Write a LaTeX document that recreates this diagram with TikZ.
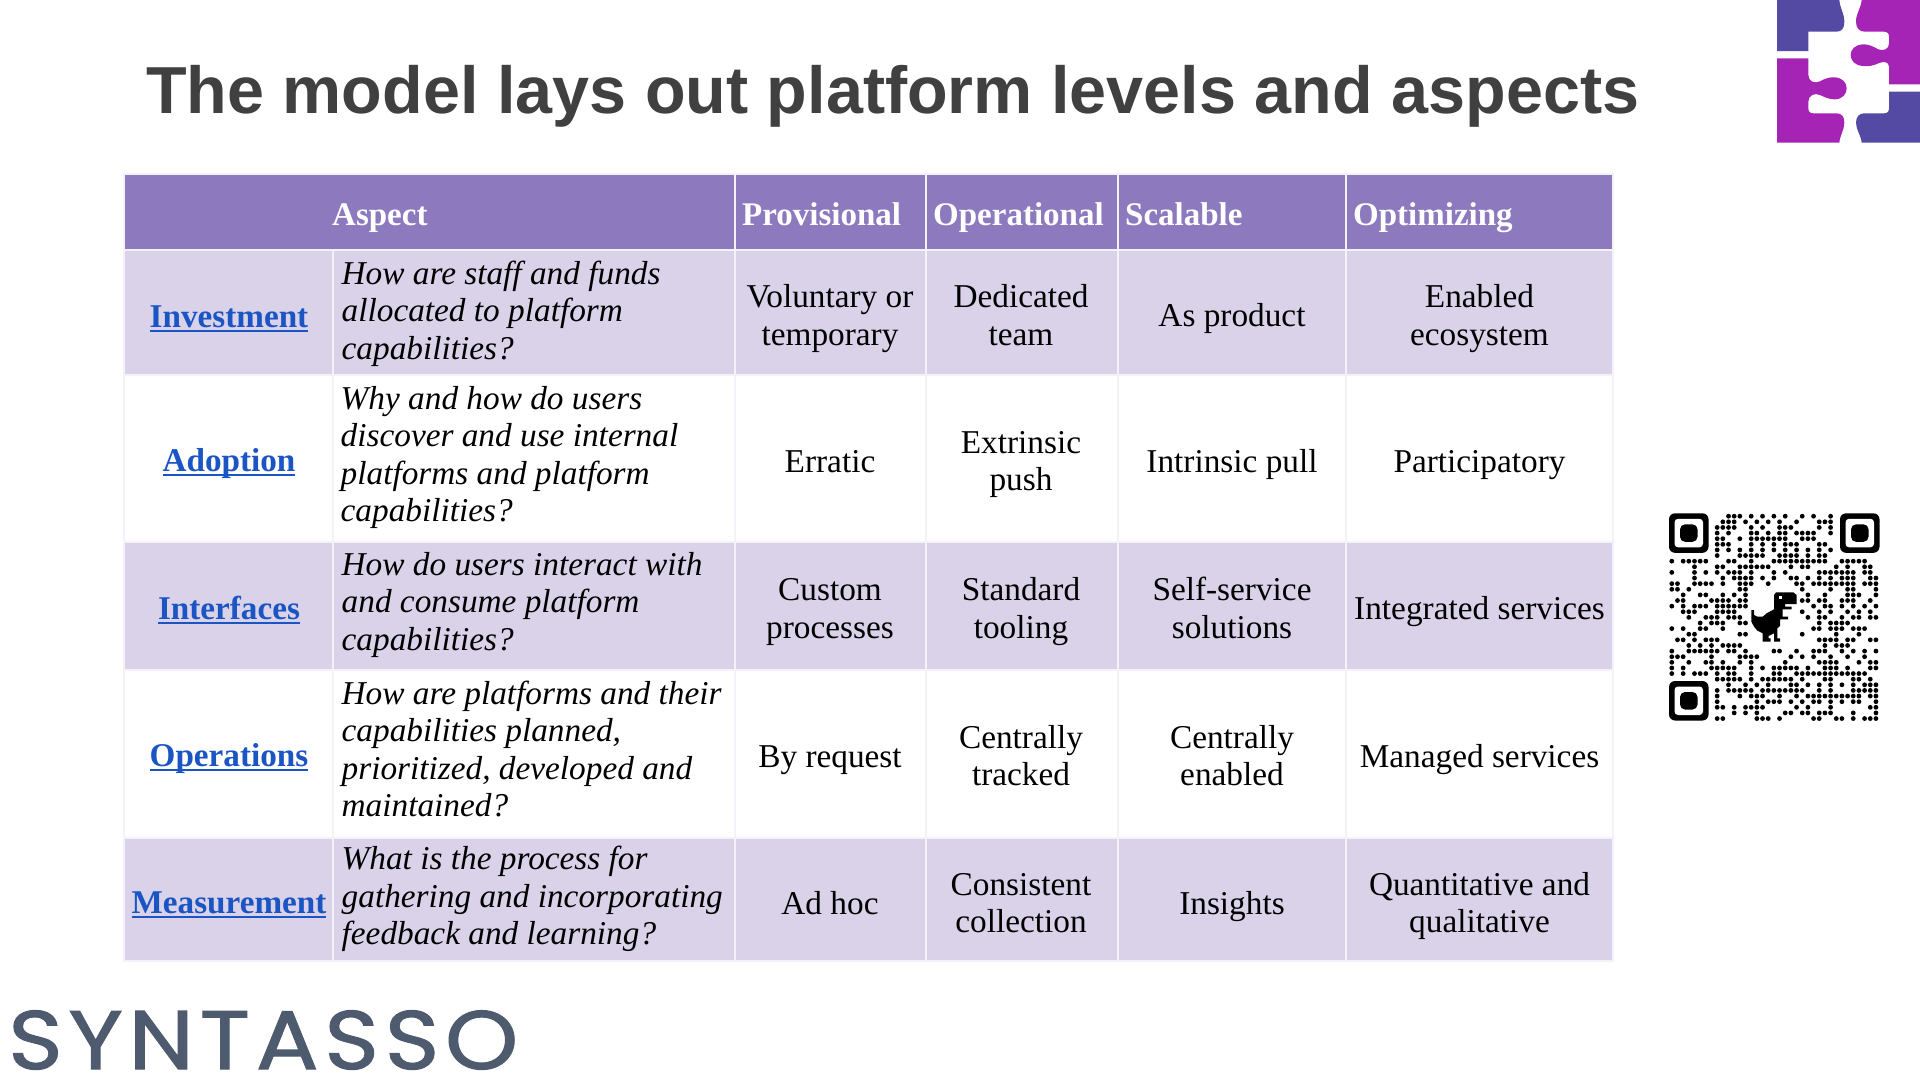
\documentclass[tikz,border=0pt]{standalone}
\usepackage{fontspec}
\setmainfont{Liberation Serif}
\newfontfamily\titlefont{Liberation Sans}
\newfontfamily\brandfont[LetterSpace=7,FakeBold=1.4,FakeStretch=1.12]{Poppins}
\definecolor{headpurple}{HTML}{8C79BE}
\definecolor{rowlilac}{HTML}{D9D2E9}
\definecolor{cellline}{HTML}{F4F2F8}
\definecolor{linkblue}{HTML}{1B55C4}
\definecolor{titlegrey}{HTML}{404040}
\definecolor{brandslate}{HTML}{4E5A6E}
\definecolor{logopurple}{HTML}{A524B5}
\definecolor{logoblue}{HTML}{5449A3}
\newcommand\ulink[1]{\setbox0\hbox{#1}\rlap{\textcolor{linkblue}{\rule[-4.5pt]{\wd0}{2pt}}}\box0}
\tikzset{
  headcell/.style={fill=headpurple,draw=cellline,line width=2.5pt},
  oddcell/.style={fill=rowlilac,draw=cellline,line width=2.5pt},
  evencell/.style={fill=white,draw=cellline,line width=2.5pt},
  body/.style={inner sep=0pt,align=center,text=black,font=\fontsize{33.3}{37.5}\selectfont},
  question/.style={inner sep=0pt,align=left,anchor=west,text=black,font=\fontsize{33.3}{37.5}\selectfont\itshape},
  headtext/.style={inner sep=0pt,anchor=base west,text=white,font=\fontsize{33}{38}\selectfont\bfseries},
  aspectlink/.style={inner sep=0pt,text=linkblue,font=\fontsize{33.2}{38}\selectfont\bfseries},
  qrdot/.style={fill=black},
}
\begin{document}
\begin{tikzpicture}[x=1pt,y=-1pt]
\useasboundingbox (0,0) rectangle (1920,1080);
\fill[white] (0,0) rectangle (1920,1080);
% title
\node[inner sep=0pt,anchor=base west,text=titlegrey,font=\fontsize{66.5}{80}\selectfont\titlefont\bfseries] (title) at (146,113) {The model lays out platform levels and aspects};
% table backgrounds
\path[headcell] (124,174) rectangle (735,250);
\path[headcell] (735,174) rectangle (926,250);
\path[headcell] (926,174) rectangle (1118,250);
\path[headcell] (1118,174) rectangle (1346,250);
\path[headcell] (1346,174) rectangle (1613,250);
\foreach \ya/\yb/\st in {250/375/oddcell,375/542/evencell,542/670/oddcell,670/838/evencell,838/961/oddcell}{
  \foreach \xa/\xb in {124/333,333/735,735/926,926/1118,1118/1346,1346/1613}{
    \path[\st] (\xa,\ya) rectangle (\xb,\yb);
  }
}
% header
\node[headtext] (hA) at (332,225) {Aspect};
\node[headtext] (hB) at (742,225) {Provisional};
\node[headtext] (hC) at (933,225) {Operational};
\node[headtext] (hD) at (1125,225) {Scalable};
\node[headtext] (hE) at (1353,225) {Optimizing};
% row 1
\node[aspectlink] (a1) at (229,319) {\ulink{Investment}};
\node[question] (q1) at (341.5,314) {\strut How are staff and funds\\allocated to platform\\capabilities?\strut};
\node[body] (p1) at (830,319) {\strut Voluntary or\\temporary\strut};
\node[body] (o1) at (1021,319) {\strut Dedicated\\team\strut};
\node[body] (s1) at (1232,319) {\strut As product\strut};
\node[body] (z1) at (1479.5,319) {\strut Enabled\\ecosystem\strut};
% row 2
\node[aspectlink] (a2) at (229,464) {\ulink{Adoption}};
\node[question] (q2) at (340.5,458) {\strut Why and how do users\\discover and use internal\\platforms and platform\\capabilities?\strut};
\node[body] (p2) at (830,464.5) {\strut Erratic\strut};
\node[body] (o2) at (1021,464.5) {\strut Extrinsic\\push\strut};
\node[body] (s2) at (1232,464.5) {\strut Intrinsic pull\strut};
\node[body] (z2) at (1479.5,464.5) {\strut Participatory\strut};
% row 3
\node[aspectlink] (a3) at (229,610.5) {\ulink{Interfaces}};
\node[question] (q3) at (341.5,605) {\strut How do users interact with\\and consume platform\\capabilities?\strut};
\node[body] (p3) at (830,612) {\strut Custom\\processes\strut};
\node[body] (o3) at (1021,612) {\strut Standard\\tooling\strut};
\node[body] (s3) at (1232,612) {\strut Self-service\\solutions\strut};
\node[body] (z3) at (1479.5,612) {\strut Integrated services\strut};
% row 4
\node[aspectlink] (a4) at (229,759) {\ulink{Operations}};
\node[question] (q4) at (341.5,753) {\strut How are platforms and their\\capabilities planned,\\prioritized, developed and\\maintained?\strut};
\node[body] (p4) at (830,759.5) {\strut By request\strut};
\node[body] (o4) at (1021,759.5) {\strut Centrally\\tracked\strut};
\node[body] (s4) at (1232,759.5) {\strut Centrally\\enabled\strut};
\node[body] (z4) at (1479.5,759.5) {\strut Managed services\strut};
% row 5
\node[aspectlink] (a5) at (229,905) {\ulink{Measurement}};
\node[question] (q5) at (341.5,899.5) {\strut What is the process for\\gathering and incorporating\\feedback and learning?\strut};
\node[body] (p5) at (830,906.5) {\strut Ad hoc\strut};
\node[body] (o5) at (1021,906.5) {\strut Consistent\\collection\strut};
\node[body] (s5) at (1232,906.5) {\strut Insights\strut};
\node[body] (z5) at (1479.5,906.5) {\strut Quantitative and\\qualitative\strut};
% brand
\node[inner sep=0pt,anchor=base west,text=brandslate,font=\fontsize{83}{90}\selectfont\brandfont] (brand) at (8,1069) {SYNTASSO};
% logo
\begin{scope}[shift={(1760,0)},x=0.3333pt,y=-0.3333pt]
\fill[logoblue] (51,0) -- (238,0) .. controls (240,25) and (253,40) .. (253,65) .. controls (253,85) and (245,95) .. (230,95) -- (145,95) -- (145,153) -- (51,153) -- cycle;
\fill[logopurple] (305,0) -- (480,0) -- (480,253) -- (387,253) -- (387,200) .. controls (387,185) and (370,183) .. (355,190) .. controls (340,197) and (325,200) .. (310,198) .. controls (285,197) and (272,182) .. (272,165) .. controls (272,148) and (285,134) .. (310,133) .. controls (325,132) and (340,140) .. (355,148) .. controls (370,154) and (387,148) .. (387,130) -- (387,110) .. controls (387,100) and (382,95) .. (372,95) -- (315,95) .. controls (298,95) and (288,85) .. (288,65) .. controls (288,40) and (303,25) .. (305,0) -- cycle;
\fill[logopurple] (51,175) -- (145,175) -- (145,225) .. controls (145,245) and (165,252) .. (180,244) .. controls (195,236) and (210,230) .. (225,232) .. controls (248,234) and (260,248) .. (260,265) .. controls (260,282) and (248,297) .. (225,298) .. controls (210,299) and (195,292) .. (180,285) .. controls (165,278) and (145,285) .. (145,305) -- (145,325) .. controls (145,335) and (150,340) .. (160,340) -- (230,340) .. controls (245,340) and (253,350) .. (253,368) .. controls (253,390) and (240,405) .. (238,428) -- (51,428) -- cycle;
\fill[logoblue] (305,428) .. controls (303,405) and (288,390) .. (288,368) .. controls (288,350) and (298,340) .. (312,340) -- (372,340) .. controls (382,340) and (387,335) .. (387,325) -- (387,275) -- (480,275) -- (480,428) -- cycle;
\end{scope}
% QR code
\begin{scope}[shift={(1671.8,516.2)},x=5.67pt,y=-5.62pt]
\foreach \r/\cs in {
0/{10,11,12,14,16,18,20,23,25,28},
1/{9,10,11,13,15,17,19,22,26,27,28},
2/{8,9,10,11,14,16,19,20,21,26,28},
3/{8,10,14,15,17,19,20,22,23,24,25,28},
4/{8,9,12,14,15,16,17,18,19,20,23,24,25},
5/{8,9,10,14,16,18,20,21,22,26,27},
6/{8,10,12,14,16,18,20,22,24,26,28},
7/{8,12,13,14,15,16,19,20,21,22,24,26,27},
8/{0,2,3,4,5,6,10,11,14,18,19,20,21,22,23,24,25,26,27,30,31,32,33,34},
9/{4,8,9,12,13,14,15,16,17,21,23,24,29,31,34,35},
10/{0,4,6,8,10,11,12,14,18,20,26,27,28,29,30,31,32,34,35},
11/{4,9,11,12,13,14,16,18,21,22,24,26,28,30,31,32,35,36},
12/{0,1,4,5,6,7,9,12,13,14,17,22,23,25,26,27,28,29,30,31,32,34,35,36},
13/{0,1,3,12,13,23,28,31,32,36},
14/{2,5,6,9,11,13,24,27,31,32,33,36},
15/{1,2,7,8,9,10,12,13,23,24,26,27,30,31,32,35},
16/{0,2,4,5,6,8,9,10,11,12,13,25,27,28,30,32,34,36},
17/{2,3,4,8,9,10,11,23,26,28,31,33,35},
18/{3,6,7,8,10,11,12,24,26,27,30,32,33,35,36},
19/{5,7,8,9,12,13,26,28,29,30,31},
20/{0,2,5,6,9,25,26,28,29,30,32,33,34},
21/{3,4,12,13,23,29,33},
22/{1,2,4,6,7,8,26,27,28,29,31,32,35,36},
23/{3,5,7,9,10,11,12,27,29,30,31},
24/{0,3,4,5,6,7,8,10,11,13,18,19,22,25,26,27,30,32,34,36},
25/{0,1,2,7,12,13,14,15,21,23,25,28,31,34},
26/{0,3,6,7,9,12,14,20,26,27,28,29,33,35,36},
27/{0,2,7,8,9,10,11,14,16,18,19,20,21,22,24,27,28,29,31,35,36},
28/{0,2,4,5,6,8,10,11,14,18,19,22,23,24,25,26,27,28,29,30,31,32,33,34},
29/{8,9,10,11,12,14,16,17,18,19,20,21,23,27,28,32,33,35},
30/{10,13,15,17,21,22,24,26,28,30,32,34,35,36},
31/{8,10,11,12,13,14,16,17,18,19,20,21,22,23,26,28,32,33,34,35,36},
32/{8,12,14,15,16,19,22,24,25,26,27,28,29,30,31,32,33,35,36},
33/{8,15,17,18,19,21,23,25,26,28,30,32,33,36},
34/{8,9,11,13,14,15,16,22,24,28,35,36},
35/{11,13,15,20,21,23,24,26,27,28,32,36},
36/{8,9,15,16,17,19,25,26,29,30,32,34,35,36}}{
  \foreach \c in \cs { \fill[qrdot] (\c,\r) circle[radius=2.4pt]; }
}
\end{scope}
% finder patterns
\foreach \fx/\fy in {1669/513.3,1840/513.3,1669/681}{
  \begin{scope}[shift={(\fx,\fy)}]
    \fill[black,rounded corners=6pt] (0,0) rectangle (39.5,39.5);
    \fill[white,rounded corners=3.5pt] (5.5,5.5) rectangle (34,34);
    \fill[black,rounded corners=5pt] (11,11) rectangle (28.5,28.5);
  \end{scope}
}
% dinosaur
\begin{scope}[shift={(1650,500)},x=0.3333pt,y=-0.3333pt]
\fill[black] (378,277) -- (430,277) -- (440,285) -- (440,312) -- (405,312) -- (405,320) -- (425,320) -- (425,328) -- (398,328) -- (398,350) -- (414,350) -- (414,358) -- (390,358) -- (390,378) -- (382,385) -- (382,415) -- (390,415) -- (390,425) -- (372,425) -- (372,400) -- (356,408) -- (356,415) -- (362,415) -- (362,425) -- (338,425) -- (338,400) -- (322,392) -- (312,380) -- (304,365) -- (304,330) -- (312,330) -- (312,345) -- (322,350) -- (338,350) -- (350,340) -- (372,328) -- (372,285) -- cycle;
\fill[white] (388,288) rectangle (396,296);
\end{scope}
\end{tikzpicture}
\end{document}
